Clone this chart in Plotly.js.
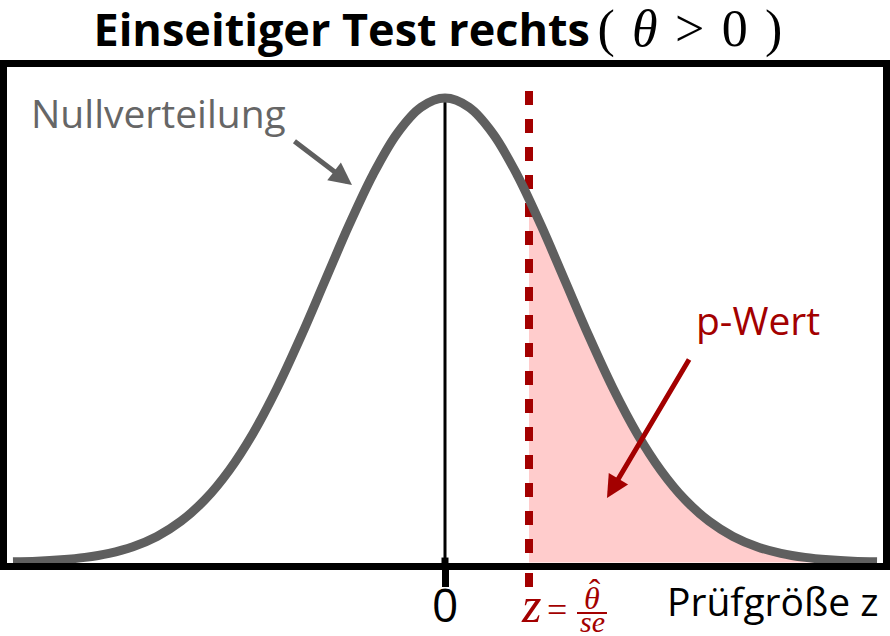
<!DOCTYPE html>
<html>
<head>
<meta charset="utf-8">
<script src="https://cdn.plot.ly/plotly-3.0.1.min.js"></script>
<style>html,body{margin:0;padding:0;background:#fff;}</style>
</head>
<body>
<div id="chart" style="width:890px;height:636px;"></div>
<script>
// Null distribution (density)
const zValues = [-3.6,-3.4,-3.2,-3.0,-2.8,-2.6,-2.4,-2.2,-2.0,-1.8,-1.6,-1.4,-1.2,-1.0,-0.8,-0.6,-0.4,-0.2,0,
                 0.2,0.4,0.6,0.8,1.0,1.2,1.4,1.6,1.8,2.0,2.2,2.4,2.6,2.8,3.0,3.2,3.4,3.6];
const density = [0.0006,0.0012,0.0024,0.0044,0.0079,0.0136,0.0224,0.0355,0.0540,0.0790,0.1109,0.1497,0.1942,0.2420,0.2897,0.3332,0.3683,0.3910,0.3989,
                 0.3910,0.3683,0.3332,0.2897,0.2420,0.1942,0.1497,0.1109,0.0790,0.0540,0.0355,0.0224,0.0136,0.0079,0.0044,0.0024,0.0012,0.0006];
// p-value region (right tail beyond observed z)
const tailZ = [0.7,0.8,1.0,1.2,1.4,1.6,1.8,2.0,2.2,2.4,2.6,2.8,3.0,3.2,3.4,3.6];
const tailDensity = [0.3123,0.2897,0.2420,0.1942,0.1497,0.1109,0.0790,0.0540,0.0355,0.0224,0.0136,0.0079,0.0044,0.0024,0.0012,0.0006];
// observed test statistic
const zObs = 0.7;
const dashTop = 0.405;
const peak = 0.3989;
// labels
const titleText = 'Einseitiger Test rechts';
const curveLabel = 'Nullverteilung';
const pLabel = 'p-Wert';
const axisLabel = 'Prüfgröße z';
const tickVals = [0];
const tickText = ['0'];

const RED = '#a30000';
const GRAY = '#5f5f5f';
const PINK = '#ffcccc';

const traces = [
  {x: tailZ, y: tailDensity, type: 'scatter', mode: 'lines', fill: 'tozeroy', fillcolor: PINK,
   line: {width: 0, shape: 'spline', color: PINK}, hoverinfo: 'skip'},
  {x: [0, 0], y: [0, peak], type: 'scatter', mode: 'lines', line: {color: '#000', width: 3}, hoverinfo: 'skip'},
  {x: [zObs, zObs], y: [dashTop, -0.02], type: 'scatter', mode: 'lines',
   line: {color: RED, width: 8, dash: '14px,14px'}, hoverinfo: 'skip'},
  {x: zValues, y: density, type: 'scatter', mode: 'lines',
   line: {color: GRAY, width: 9, shape: 'spline', smoothing: 1}, hoverinfo: 'skip'}
];

const serif = 'Liberation Serif';
const SP = '\u2004';
const layout = {
  width: 890, height: 636,
  margin: {l: 7, r: 7, t: 67, b: 73},
  paper_bgcolor: '#fff', plot_bgcolor: '#fff',
  showlegend: false,
  title: {
    text: '<b>' + titleText + '</b>\u2009<span style="font-family:' + serif + ';font-size:52px">(' + SP + '<i>θ</i>' + SP + '&gt;' + SP + '0' + SP + ')</span>',
    x: 0.492, xanchor: 'center', y: 0.953, yanchor: 'middle',
    font: {family: 'Open Sans', size: 45, color: '#000'}
  },
  xaxis: {
    range: [-3.65, 3.65], showgrid: false, zeroline: false,
    showline: true, mirror: true, linewidth: 7, linecolor: '#000',
    tickmode: 'array', tickvals: tickVals, ticktext: tickText, showticklabels: false,
    ticks: 'outside', ticklen: 17, tickwidth: 7, tickcolor: '#000', fixedrange: true
  },
  yaxis: {
    range: [-0.0004, 0.4256], showgrid: false, zeroline: false,
    showline: true, mirror: true, linewidth: 7, linecolor: '#000',
    showticklabels: false, ticks: '', fixedrange: true
  },
  shapes: [
    {type: 'line', xref: 'x', yref: 'paper', x0: zObs, x1: zObs, y0: -0.0202, y1: -0.0484,
     line: {color: RED, width: 8}},
    {type: 'line', xref: 'x', yref: 'paper', x0: 0, x1: 0, y0: 0, y1: 0.011,
     line: {color: '#000', width: 7}},
    {type: 'line', xref: 'paper', yref: 'paper', x0: 0.6507, x1: 0.6849, y0: -0.1008, y1: -0.1008,
     line: {color: RED, width: 2}}
  ],
  annotations: [
    {xref: 'x', yref: 'paper', x: tickVals[0], y: -0.0827, text: tickText[0], showarrow: false,
     xanchor: 'center', yanchor: 'middle', font: {family: 'Open Sans', size: 46, color: '#000'}},
    {xref: 'paper', yref: 'paper', x: 0.1724, y: 0.909, text: curveLabel, showarrow: false,
     xanchor: 'center', yanchor: 'middle', font: {family: 'Open Sans', size: 39, color: '#666'}},
    {xref: 'paper', yref: 'paper', x: 0.3938, y: 0.762, ax: -59, ay: -45, text: '', showarrow: true,
     arrowhead: 2, arrowsize: 0.9, arrowwidth: 5, arrowcolor: GRAY},
    {xref: 'paper', yref: 'paper', x: 0.857, y: 0.49, text: pLabel, showarrow: false,
     xanchor: 'center', yanchor: 'middle', font: {family: 'Open Sans', size: 39, color: RED}},
    {xref: 'paper', yref: 'paper', x: 0.6849, y: 0.131, ax: 83, ay: -140, text: '', showarrow: true,
     arrowhead: 2, arrowsize: 0.9, arrowwidth: 5, arrowcolor: RED},
    {xref: 'paper', yref: 'paper', x: 0.874, y: -0.0746, text: axisLabel, showarrow: false,
     xanchor: 'center', yanchor: 'middle', font: {family: 'Open Sans', size: 39, color: '#000'}},
    {xref: 'paper', yref: 'paper', x: 0.598, y: -0.085, text: '<i>z</i>', showarrow: false,
     xanchor: 'center', yanchor: 'middle', font: {family: serif, size: 50, color: RED}},
    {xref: 'paper', yref: 'paper', x: 0.628, y: -0.095, text: '=', showarrow: false,
     xanchor: 'center', yanchor: 'middle', font: {family: serif, size: 36, color: RED}},
    {xref: 'paper', yref: 'paper', x: 0.668, y: -0.0706, text: '<i>θ</i>', showarrow: false,
     xanchor: 'center', yanchor: 'middle', font: {family: serif, size: 32, color: RED}},
    {xref: 'paper', yref: 'paper', x: 0.671, y: -0.058, text: '\u02C6', showarrow: false,
     xanchor: 'center', yanchor: 'middle', font: {family: serif, size: 34, color: RED}},
    {xref: 'paper', yref: 'paper', x: 0.668, y: -0.118, text: '<i>se</i>', showarrow: false,
     xanchor: 'center', yanchor: 'middle', font: {family: serif, size: 30, color: RED}}
  ]
};

Plotly.newPlot('chart', traces, layout, {displayModeBar: false, staticPlot: true});
</script>
</body>
</html>
